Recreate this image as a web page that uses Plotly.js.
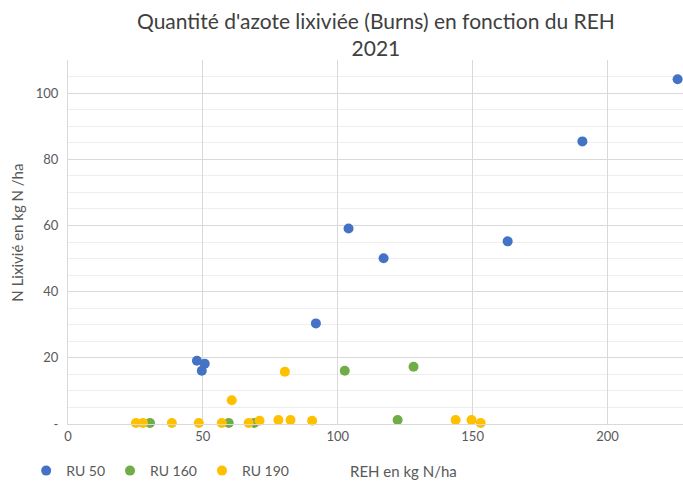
<!DOCTYPE html>
<html>
<head>
<meta charset="utf-8">
<script src="https://cdn.plot.ly/plotly-3.0.1.min.js"></script>
<style>html,body{margin:0;padding:0;background:#fff;}#chart{width:683px;height:487px;}</style>
</head>
<body>
<div id="chart"></div>
<script>
const seriesNames = ["RU 50", "RU 160", "RU 190"];
const ru50X = [47.8, 50.7, 49.6, 91.9, 104, 117, 163, 190.7, 226];
const ru50Y = [19.1, 18.2, 16.1, 30.4, 59.1, 50.1, 55.2, 85.4, 104.2];
const ru160X = [30.4, 59.6, 69, 102.6, 128.1, 122.2];
const ru160Y = [0.3, 0.3, 0.3, 16.1, 17.3, 1.2];
const ru190X = [25.2, 27.8, 38.5, 48.5, 57, 67, 71, 78, 82.5, 90.5, 80.4, 60.7, 143.7, 149.6, 153];
const ru190Y = [0.3, 0.3, 0.3, 0.3, 0.3, 0.3, 1, 1.2, 1.2, 1, 15.8, 7.2, 1.2, 1.2, 0.3];
const yTickVals = [0, 20, 40, 60, 80, 100];
const yTickText = ["-", "20", "40", "60", "80", "100"];
const xTickVals = [0, 50, 100, 150, 200];
const colors = ["#4472C4", "#70AD47", "#FFC000"];

const font = "Lato, 'Open Sans', sans-serif";
const mk = (x, y, i) => ({
  x: x, y: y, name: seriesNames[i], type: "scatter", mode: "markers",
  marker: {color: colors[i], size: 10, line: {width: 0}},
  cliponaxis: false
});

const data = [mk(ru50X, ru50Y, 0), mk(ru160X, ru160Y, 1), mk(ru190X, ru190Y, 2)];

const layout = {
  width: 683, height: 487,
  margin: {l: 68, r: 0, t: 60, b: 58},
  paper_bgcolor: "#fff", plot_bgcolor: "#fff",
  font: {family: font, color: "#595959", size: 12},
  xaxis: {
    range: [0, 228], tickvals: xTickVals, showgrid: true, gridcolor: "#d9d9d9",
    showline: true, linecolor: "#d9d9d9", zeroline: false, ticks: "",
    tickfont: {size: 13, color: "#595959"}, fixedrange: true
  },
  yaxis: {
    range: [0, 110], tickvals: yTickVals, ticktext: yTickText,
    showgrid: true, gridcolor: "#d9d9d9",
    minor: {dtick: 5, showgrid: true, gridcolor: "#eeeeee", gridwidth: 1},
    showline: true, linecolor: "#d9d9d9", zeroline: false, ticks: "",
    ticklabelstandoff: 6,
    tickfont: {size: 13, color: "#595959"}, fixedrange: true
  },
  showlegend: true,
  legend: {
    orientation: "h", x: -0.068, xanchor: "left", y: -0.13, yanchor: "middle",
    font: {size: 14, color: "#595959"}, itemwidth: 30, tracegroupgap: 0,
    bgcolor: "rgba(0,0,0,0)"
  },
  annotations: [
    {text: "Quantité d'azote lixiviée (Burns) en fonction du REH<br>2021",
     xref: "paper", yref: "paper", x: 0.5, y: (429 - 34) / 369,
     xanchor: "center", yanchor: "middle", showarrow: false,
     font: {family: font, size: 21, color: "#404040"}},
    {text: "REH en kg N/ha", xref: "paper", yref: "paper", x: (403 - 68) / 615, y: -0.13,
     xanchor: "center", yanchor: "middle", showarrow: false, font: {size: 15, color: "#595959"}},
    {text: "N Lixivié en kg N /ha", xref: "paper", yref: "paper", x: (17 - 68) / 615, y: (429 - 235) / 369,
     xanchor: "center", yanchor: "middle", textangle: -90, showarrow: false, font: {size: 15, color: "#595959"}}
  ]
};

Plotly.newPlot("chart", data, layout, {displayModeBar: false, staticPlot: true});
</script>
</body>
</html>
